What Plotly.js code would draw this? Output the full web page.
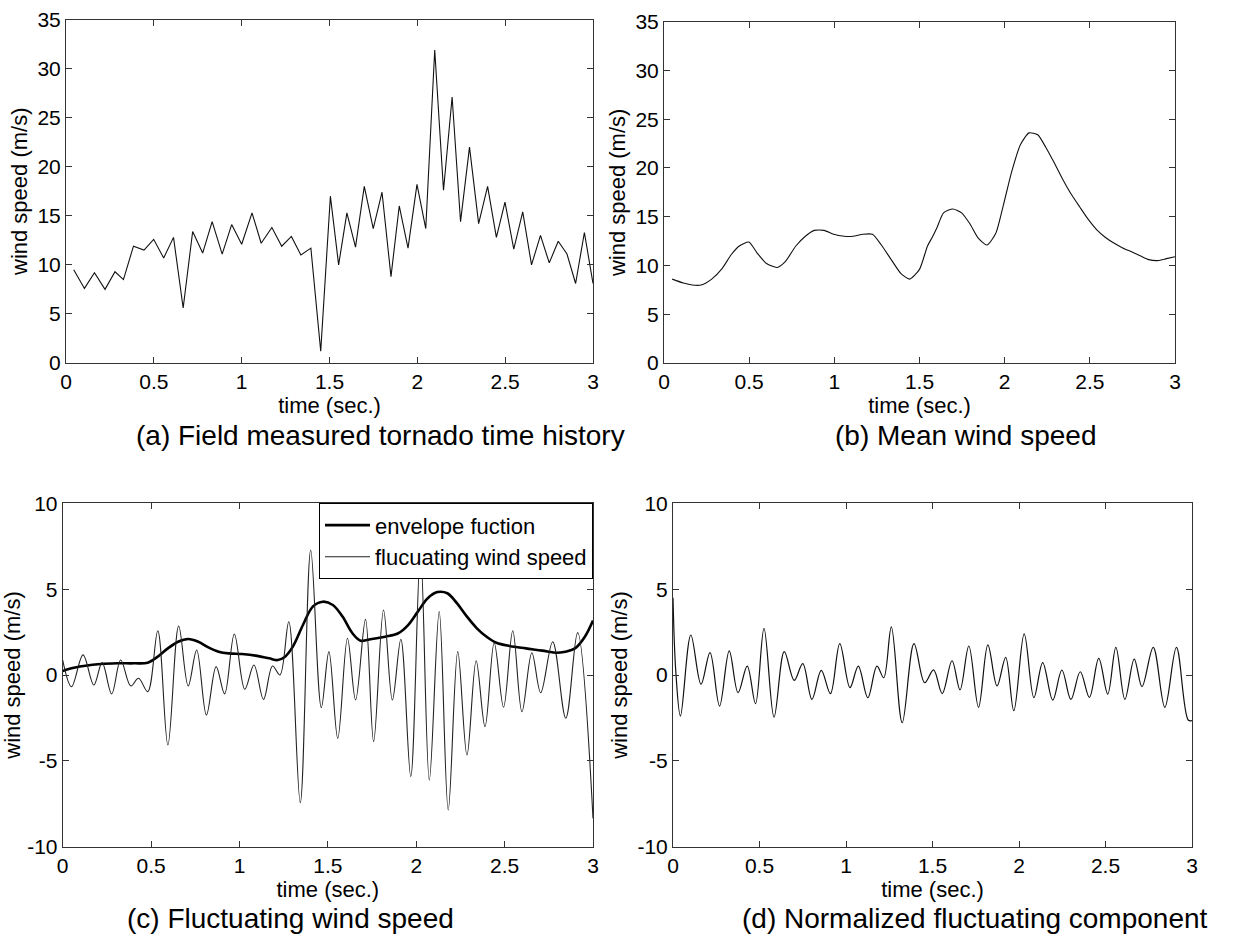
<!DOCTYPE html>
<html>
<head>
<meta charset="utf-8">
<script src="https://cdn.plot.ly/plotly-3.0.1.min.js"></script>
<style>html,body{margin:0;padding:0;background:#fff;}#chart{width:1236px;height:938px;}</style>
</head>
<body>
<div id="chart"></div>
<script>
// ---------- DATA ----------
// (a) Field measured tornado time history
const tA = [0.044,0.105,0.162,0.222,0.279,0.327,0.384,0.444,0.499,0.556,0.612,0.667,0.721,0.778,0.832,0.889,0.943,1.000,1.059,1.111,1.172,1.228,1.283,1.337,1.394,1.450,1.505,1.552,1.599,1.648,1.698,1.749,1.799,1.850,1.897,1.947,1.998,2.048,2.099,2.149,2.198,2.246,2.297,2.349,2.400,2.450,2.499,2.549,2.600,2.650,2.701,2.751,2.802,2.852,2.901,2.951,3.000];
const vA = [9.5,7.6,9.2,7.5,9.3,8.5,11.9,11.5,12.6,10.7,12.8,5.6,13.4,11.2,14.4,11.1,14.1,12.1,15.3,12.2,13.8,11.9,12.9,11.0,11.7,1.2,17.0,10.0,15.3,11.8,18.0,13.7,17.4,8.8,16.0,11.7,18.2,13.7,31.9,17.6,27.1,14.4,22.0,14.2,18.0,12.8,16.4,11.6,15.4,10.0,13.0,10.2,12.4,11.1,8.1,13.3,8.1];

// (b) Mean wind speed
const tB = [0.048,0.114,0.166,0.218,0.280,0.342,0.394,0.442,0.498,0.546,0.602,0.664,0.712,0.774,0.830,0.882,0.940,0.996,1.058,1.110,1.168,1.224,1.276,1.334,1.390,1.442,1.500,1.547,1.575,1.603,1.641,1.696,1.747,1.795,1.845,1.896,1.948,1.994,2.041,2.093,2.143,2.194,2.242,2.292,2.339,2.391,2.441,2.492,2.544,2.590,2.641,2.693,2.745,2.795,2.846,2.898,2.950,3.000];
const vB = [8.6,8.2,8.0,8.0,8.6,9.7,11.1,12.0,12.4,11.3,10.2,9.8,10.4,12.0,13.0,13.6,13.6,13.2,13.0,13.0,13.2,13.2,12.1,10.6,9.2,8.6,9.6,12.0,12.9,13.9,15.4,15.8,15.4,14.3,12.8,12.1,13.3,16.3,19.6,22.4,23.6,23.4,22.1,20.5,18.9,17.3,16.0,14.7,13.6,12.9,12.3,11.8,11.4,11.0,10.6,10.5,10.7,10.9];

// (c) Fluctuating wind speed: envelope function
const tCenv = [0,0.05,0.118,0.214,0.309,0.405,0.481,0.538,0.595,0.653,0.71,0.767,0.824,0.882,0.939,1.015,1.092,1.168,1.216,1.254,1.302,1.359,1.416,1.472,1.528,1.583,1.639,1.685,1.75,1.824,1.898,1.954,2.009,2.065,2.12,2.176,2.231,2.287,2.343,2.398,2.454,2.528,2.62,2.713,2.787,2.843,2.898,2.954,3.0];
const vCenv = [0.23,0.39,0.52,0.64,0.68,0.68,0.72,1.07,1.55,1.94,2.1,1.94,1.61,1.36,1.26,1.22,1.13,0.97,0.87,1.03,1.65,2.91,4.0,4.27,4.08,3.4,2.43,2.0,2.1,2.23,2.43,2.91,3.69,4.47,4.83,4.76,4.17,3.4,2.72,2.23,1.88,1.69,1.55,1.42,1.3,1.36,1.55,2.23,3.17];

// (c) Fluctuating wind speed: fluctuating series (extrema)
const tCflu = [0,0.05,0.115,0.176,0.223,0.277,0.328,0.385,0.429,0.481,0.538,0.595,0.656,0.71,0.758,0.813,0.868,0.916,0.971,1.03,1.082,1.136,1.187,1.229,1.279,1.344,1.403,1.463,1.506,1.556,1.611,1.657,1.713,1.759,1.815,1.865,1.913,1.969,2.024,2.074,2.13,2.181,2.235,2.287,2.339,2.389,2.441,2.494,2.546,2.598,2.654,2.704,2.772,2.846,2.913,3.0];
const vCflu = [0.87,-0.68,1.17,-0.58,0.72,-1.1,0.87,-0.64,-0.19,-0.97,2.58,-4.08,2.85,-0.64,1.46,-2.33,0.49,-1.1,2.39,-0.83,0.58,-1.42,0.52,0.0,3.1,-7.44,7.28,-1.9,1.36,-3.69,2.14,-1.46,3.24,-3.88,3.79,-1.46,2.08,-5.92,7.2,-6.12,3.69,-7.86,1.36,-4.66,0.83,-3.01,1.88,-1.88,2.58,-2.14,1.3,-1.03,1.94,-2.52,2.47,-8.35];

// (d) Normalized fluctuating component
const tD = [0,0.016,0.043,0.103,0.162,0.214,0.269,0.325,0.376,0.429,0.477,0.526,0.584,0.643,0.701,0.75,0.803,0.857,0.91,0.964,1.023,1.071,1.126,1.179,1.218,1.262,1.325,1.393,1.455,1.506,1.556,1.613,1.659,1.71,1.766,1.82,1.873,1.923,1.97,2.03,2.086,2.137,2.195,2.248,2.3,2.354,2.407,2.461,2.513,2.56,2.612,2.666,2.711,2.776,2.843,2.91,2.978,3.0];
const vD = [4.5,0.23,-2.39,2.33,-0.54,1.3,-1.81,1.4,-1.03,0.52,-1.67,2.72,-2.45,1.36,-0.31,0.66,-1.42,0.27,-1.09,1.83,-0.74,0.52,-1.32,0.52,-0.16,2.8,-2.78,1.83,-0.45,0.3,-1.08,0.83,-0.87,1.69,-1.88,1.75,-0.64,1.03,-2.08,2.39,-1.32,0.72,-1.46,0.29,-1.42,0.19,-1.3,0.97,-1.11,1.61,-1.42,0.93,-0.68,1.61,-1.88,1.61,-2.62,-2.66];

// Tick labels
const xTickVals = [0,0.5,1,1.5,2,2.5,3];
const xTickText = ['0','0.5','1','1.5','2','2.5','3'];
const yTickValsAB = [0,5,10,15,20,25,30,35];
const yTickTextAB = ['0','5','10','15','20','25','30','35'];
const yTickValsCD = [-10,-5,0,5,10];
const yTickTextCD = ['-10','-5','0','5','10'];

const xTitle = 'time (sec.)';
const yTitle = 'wind speed (m/s)';
const legendNames = ['envelope fuction','flucuating wind speed'];
const captions = ['(a) Field measured tornado time history','(b) Mean wind speed','(c) Fluctuating wind speed','(d) Normalized fluctuating component'];

// ---------- LAYOUT ----------
const W = 1236, H = 938;
const FONT = 'Liberation Sans, Arial, Helvetica, sans-serif';
const AXC = '#333333';
const px2x = p => p / W;
const px2y = p => 1 - p / H;

const boxes = { // pixel boxes [left, right, top, bottom]
  a: [66, 593, 19.5, 363],
  b: [664, 1175, 21.7, 363],
  c: [62.7, 593, 503.3, 846.7],
  d: [673, 1192, 503.3, 846.7]
};

function xAxis(box, anchor) {
  return {
    domain: [px2x(box[0]), px2x(box[1])], anchor: anchor,
    range: [0, 3], tickmode: 'array', tickvals: xTickVals, ticktext: xTickText,
    ticks: 'inside', ticklen: 6, tickwidth: 1, tickcolor: AXC,
    showline: true, linecolor: AXC, linewidth: 1, mirror: 'ticks',
    showgrid: false, zeroline: false,
    tickfont: {family: FONT, size: 21, color: '#000'},
    title: {text: xTitle, font: {family: FONT, size: 22, color: '#000'}, standoff: 0}
  };
}
function yAxis(box, anchor, vals, text, range) {
  return {
    domain: [px2y(box[3]), px2y(box[2])], anchor: anchor,
    range: range, tickmode: 'array', tickvals: vals, ticktext: text,
    ticks: 'inside', ticklen: 6, tickwidth: 1, tickcolor: AXC,
    showline: true, linecolor: AXC, linewidth: 1, mirror: 'ticks',
    showgrid: false, zeroline: false,
    tickfont: {family: FONT, size: 21, color: '#000'},
    title: {text: yTitle, font: {family: FONT, size: 22, color: '#000'}, standoff: 3}
  };
}

const traces = [
  {x: tA, y: vA, xaxis: 'x', yaxis: 'y', mode: 'lines', line: {color: '#111', width: 1.1}, showlegend: false},
  {x: tB, y: vB, xaxis: 'x2', yaxis: 'y2', mode: 'lines', line: {color: '#111', width: 1.1, shape: 'spline', smoothing: 0.6}, showlegend: false},
  {x: tCenv, y: vCenv, xaxis: 'x3', yaxis: 'y3', mode: 'lines', name: legendNames[0], line: {color: '#000', width: 2.6, shape: 'spline'}},
  {x: tCflu, y: vCflu, xaxis: 'x3', yaxis: 'y3', mode: 'lines', name: legendNames[1], line: {color: '#222', width: 1.1, shape: 'spline'}},
  {x: tD, y: vD, xaxis: 'x4', yaxis: 'y4', mode: 'lines', line: {color: '#111', width: 1.2, shape: 'spline'}, showlegend: false}
];

const capPos = [[380, 436], [965, 436], [290, 918], [975, 918]];
const annotations = captions.map((c, i) => ({
  text: c, xref: 'paper', yref: 'paper', x: px2x(capPos[i][0]), y: px2y(capPos[i][1]),
  xanchor: 'center', yanchor: 'middle', showarrow: false,
  font: {family: FONT, size: 28, color: '#000'}
}));

const layout = {
  width: W, height: H,
  margin: {l: 0, r: 0, t: 0, b: 0},
  paper_bgcolor: '#fff', plot_bgcolor: '#fff',
  font: {family: FONT, color: '#000'},
  xaxis: xAxis(boxes.a, 'y'),
  yaxis: yAxis(boxes.a, 'x', yTickValsAB, yTickTextAB, [0, 35]),
  xaxis2: xAxis(boxes.b, 'y2'),
  yaxis2: yAxis(boxes.b, 'x2', yTickValsAB, yTickTextAB, [0, 35]),
  xaxis3: xAxis(boxes.c, 'y3'),
  yaxis3: yAxis(boxes.c, 'x3', yTickValsCD, yTickTextCD, [-10, 10]),
  xaxis4: xAxis(boxes.d, 'y4'),
  yaxis4: yAxis(boxes.d, 'x4', yTickValsCD, yTickTextCD, [-10, 10]),
  showlegend: true,
  legend: {
    x: px2x(boxes.c[1]), xanchor: 'right', y: px2y(boxes.c[2]), yanchor: 'top',
    bgcolor: '#fff', bordercolor: '#000', borderwidth: 1,
    font: {family: FONT, size: 22, color: '#000'}, itemwidth: 45, tracegroupgap: 0
  },
  annotations: annotations
};

Plotly.newPlot('chart', traces, layout, {staticPlot: true, displayModeBar: false});
</script>
</body>
</html>
